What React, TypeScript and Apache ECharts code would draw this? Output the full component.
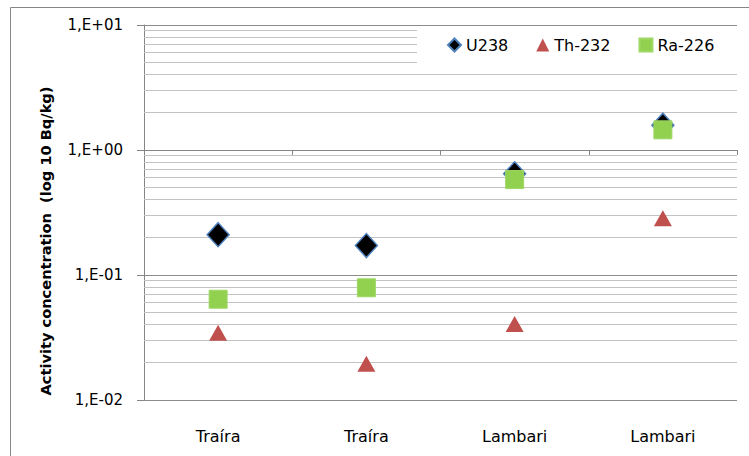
import React, { useEffect, useRef } from "react";
import * as echarts from "echarts";

const categories = ["Traíra", "Traíra", "Lambari", "Lambari"];
const u238 = [0.21, 0.172, 0.645, 1.58];
const th232 = [0.0345, 0.0195, 0.0405, 0.285];
const ra226 = [0.064, 0.079, 0.58, 1.45];
const seriesNames = ["U238", "Th-232", "Ra-226"];
const yTitle = "Activity concentration  (log 10 Bq/kg)";

const FONT = "DejaVu Sans";

function fmt(v: number) {
  const e = Math.round(Math.log10(v));
  const sign = e < 0 ? "-" : "+";
  const abs = Math.abs(e);
  return "1,E" + sign + (abs < 10 ? "0" + abs : String(abs));
}

export default function App() {
  const ref = useRef<HTMLDivElement>(null);
  useEffect(() => {
    if (!ref.current) return;
    const chart = echarts.init(ref.current, null, { renderer: "svg" });
    const minor: any[] = [];
    for (let d = -2; d < 1; d++) {
      for (let k = 2; k <= 9; k++) {
        minor.push({ yAxis: k * Math.pow(10, d) });
      }
    }
    chart.setOption({
      animation: false,
      backgroundColor: "#fff",
      textStyle: { fontFamily: FONT },
      graphic: [
        {
          type: "rect",
          silent: true,
          z: -10,
          shape: { x: 10.5, y: 7.5, width: 800, height: 500 },
          style: { fill: "none", stroke: "#868686", lineWidth: 1 },
        },
        {
          type: "text",
          silent: true,
          x: 45,
          y: 241,
          rotation: Math.PI / 2,
          style: {
            text: yTitle,
            fill: "#000",
            font: "bold 14.6px 'DejaVu Sans'",
            align: "center",
            verticalAlign: "middle",
          },
        },
      ],
      grid: { left: 144, right: 12, top: 25, bottom: 56 },
      legend: {
        data: seriesNames,
        left: 417,
        top: 27,
        padding: [10, 23, 10, 30],
        backgroundColor: "#fff",
        itemGap: 28,
        itemWidth: 13,
        itemHeight: 13,
        textStyle: { fontFamily: FONT, fontSize: 16, color: "#000" },
      },
      xAxis: [
        {
          type: "category",
          data: categories,
          position: "bottom",
          axisLine: { show: false },
          axisTick: { show: false },
          axisLabel: { color: "#000", fontSize: 16, fontFamily: FONT, margin: 28 },
          splitLine: { show: false },
        },
        {
          type: "category",
          data: categories,
          position: "top",
          offset: -125,
          axisLine: { show: true, lineStyle: { color: "#868686", width: 1 } },
          axisTick: { show: true, inside: true, length: 5, lineStyle: { color: "#868686" } },
          axisLabel: { show: false },
          splitLine: { show: false },
        },
      ],
      yAxis: {
        type: "log",
        logBase: 10,
        min: 0.01,
        max: 10,
        axisLine: { show: true, lineStyle: { color: "#868686", width: 1 } },
        axisTick: { show: true, length: 7, lineStyle: { color: "#868686" } },
        axisLabel: { color: "#000", fontSize: 15, fontFamily: FONT, margin: 21, formatter: fmt },
        splitLine: { show: true, lineStyle: { color: "#8c8c8c", width: 1 } },
      },
      series: [
        {
          name: "U238",
          type: "scatter",
          symbol: "diamond",
          symbolSize: [22, 24],
          data: u238,
          itemStyle: { color: "#000", borderColor: "#4f81bd", borderWidth: 1.5, opacity: 1 },
          markLine: {
            silent: true,
            symbol: "none",
            label: { show: false },
            lineStyle: { color: "#c3c3c3", type: "solid", width: 1 },
            data: minor,
            z: 1,
          },
          z: 3,
        },
        {
          name: "Th-232",
          type: "scatter",
          symbol: "triangle",
          symbolSize: [18, 16],
          data: th232,
          itemStyle: { color: "#c0504d", opacity: 1 },
          z: 3,
        },
        {
          name: "Ra-226",
          type: "scatter",
          symbol: "rect",
          symbolSize: 18,
          data: ra226,
          itemStyle: { color: "#92d050", borderColor: "#9fd866", borderWidth: 1, opacity: 1 },
          z: 3,
        },
      ],
    });
    return () => chart.dispose();
  }, []);
  return (
    <div
      ref={ref}
      style={{ position: "fixed", left: 0, top: 0, width: 749, height: 456 }}
    />
  );
}
